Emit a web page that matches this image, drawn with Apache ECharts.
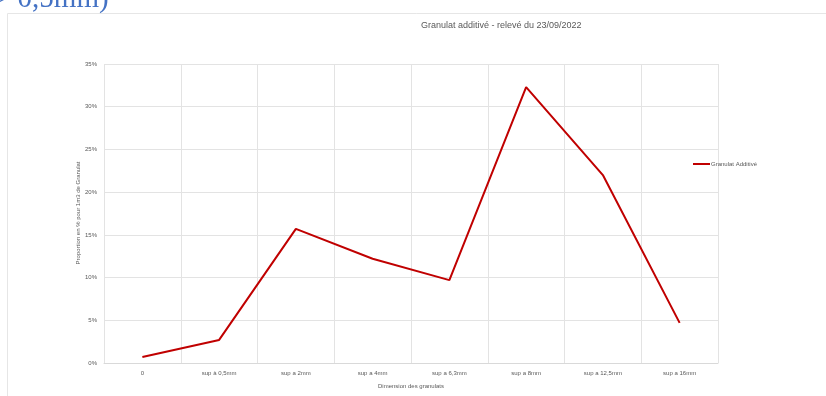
<!DOCTYPE html>
<html>
<head>
<meta charset="utf-8">
<script src="https://cdn.jsdelivr.net/npm/echarts@6/dist/echarts.min.js"></script>
<style>
  html, body { margin: 0; padding: 0; background: #fff; }
  #chart { width: 826px; height: 396px; }
</style>
</head>
<body>
<div id="chart"></div>
<script>
// Granulometry of the additive aggregate, share per size class (%)
const categories = ['0', 'sup à 0,5mm', 'sup a 2mm', 'sup a 4mm', 'sup a 6,3mm', 'sup a 8mm', 'sup a 12,5mm', 'sup a 16mm'];
const granulatAdditive = [0.7, 2.7, 15.7, 12.2, 9.7, 32.3, 22.0, 4.7];
const seriesName = 'Granulat Additivé';
const chartTitle = 'Granulat additivé - relevé du 23/09/2022';
const yAxisName = 'Proportion en % pour 1m3 de Granulat';
const xAxisName = 'Dimension des granulats';
const headingFragment = '> 0,5mm)';

const labelColor = '#595959';
const gridColor = '#e3e3e3';
const font = 'Liberation Sans';

const chart = echarts.init(document.getElementById('chart'), null, { renderer: 'canvas' });
chart.setOption({
  animation: false,
  backgroundColor: '#fff',
  graphic: [
    // frame of the chart area
    { type: 'line', shape: { x1: 7.5, y1: 13.5, x2: 826, y2: 13.5 }, style: { stroke: '#e6e6e6', lineWidth: 1 } },
    { type: 'line', shape: { x1: 7.5, y1: 13.5, x2: 7.5, y2: 396 }, style: { stroke: '#e6e6e6', lineWidth: 1 } },
    // tail of the document heading above the chart
    { type: 'text', left: -6, top: -15, style: { text: headingFragment, fill: '#4472C4', font: '29px "Liberation Serif"' } },
    { type: 'text', left: 421, top: 21, style: { text: chartTitle, fill: labelColor, font: '9px "' + font + '"', textAlign: 'center' } },
    { type: 'text', x: 78, y: 213, rotation: Math.PI / 2, style: { text: yAxisName, fill: labelColor, font: '6px "' + font + '"', textAlign: 'center', textVerticalAlign: 'middle' } }
  ],
  legend: {
    data: [seriesName],
    left: 688,
    top: 156,
    itemWidth: 17,
    itemHeight: 2,
    itemGap: 2,
    icon: 'rect',
    textStyle: { color: labelColor, fontSize: 6, fontFamily: font, padding: [0, 0, 0, -4] }
  },
  grid: { left: 104, right: 108, top: 64, bottom: 33, containLabel: false },
  xAxis: {
    type: 'category',
    data: categories,
    boundaryGap: true,
    name: xAxisName,
    nameLocation: 'middle',
    nameGap: 20,
    nameTextStyle: { color: labelColor, fontSize: 6, fontFamily: font },
    axisLine: { lineStyle: { color: '#d9d9d9' } },
    axisTick: { show: false },
    axisLabel: { color: labelColor, fontSize: 6, fontFamily: font, margin: 7, interval: 0 },
    splitLine: { show: true, lineStyle: { color: gridColor, width: 1 } }
  },
  yAxis: {
    type: 'value',
    min: 0,
    max: 35,
    interval: 5,
    axisLine: { show: false },
    axisTick: { show: false },
    axisLabel: { color: labelColor, fontSize: 6, fontFamily: font, margin: 7, formatter: '{value}%' },
    splitLine: { show: true, lineStyle: { color: gridColor, width: 1 } }
  },
  series: [{
    name: seriesName,
    type: 'line',
    data: granulatAdditive,
    symbol: 'none',
    lineStyle: { color: '#C00000', width: 2 },
    itemStyle: { color: '#C00000' }
  }]
});
</script>
</body>
</html>
